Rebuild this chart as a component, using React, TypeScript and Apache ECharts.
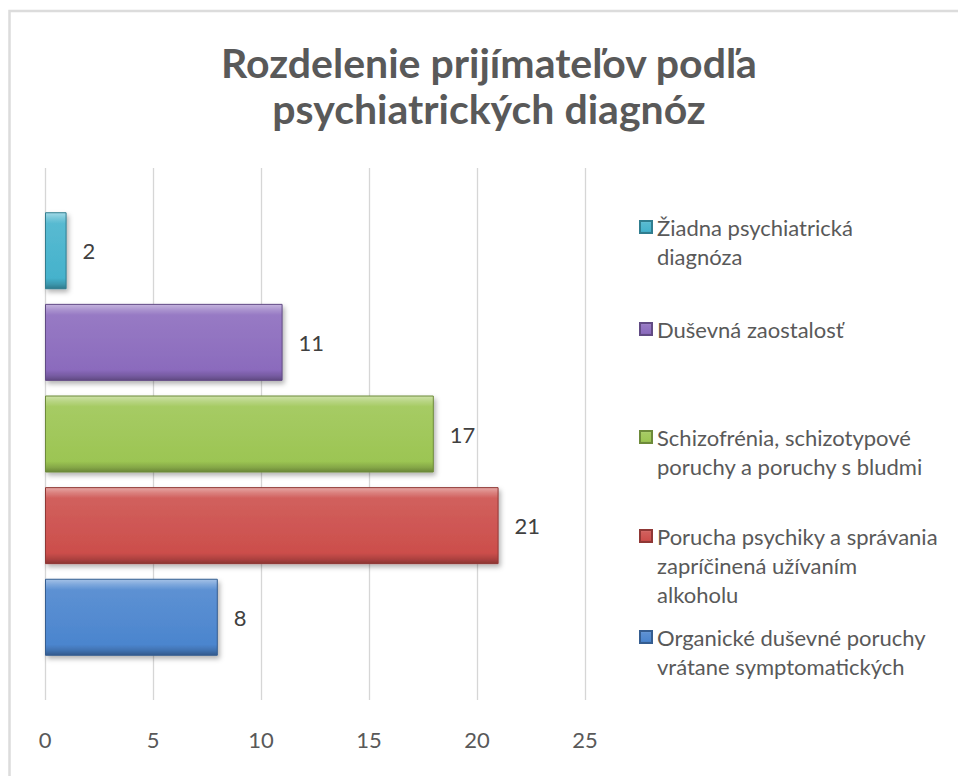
import React, { useEffect, useRef } from "react";
import * as echarts from "echarts";

const titleText = "Rozdelenie prijímateľov podľa\npsychiatrických diagnóz";

const seriesNames = [
  "Žiadna psychiatrická diagnóza",
  "Duševná zaostalosť",
  "Schizofrénia, schizotypové poruchy a poruchy s bludmi",
  "Porucha psychiky a správania zapríčinená užívaním alkoholu",
  "Organické duševné poruchy vrátane symptomatických",
];

const legendLines = [
  ["Žiadna psychiatrická", "diagnóza"],
  ["Duševná zaostalosť"],
  ["Schizofrénia, schizotypové", "poruchy a poruchy s bludmi"],
  ["Porucha psychiky a správania", "zapríčinená užívaním", "alkoholu"],
  ["Organické duševné poruchy", "vrátane symptomatických"],
];

// bar lengths as drawn, and the data labels printed beside them
const barValues = [1, 11, 18, 21, 8];
const labelValues = [2, 11, 17, 21, 8];

const seriesColors = ["#45B2CC", "#8B6BBD", "#9CC553", "#CC4E4B", "#4B85CE"];

const categories = [""];
const xTicks = [0, 5, 10, 15, 20, 25];

const FONT = "Lato, 'Open Sans', sans-serif";

function mix(hex: string, target: number, amt: number) {
  const n = parseInt(hex.slice(1), 16);
  const r = (n >> 16) & 255, g = (n >> 8) & 255, b = n & 255;
  const f = (c: number) => Math.round(c + (target - c) * amt);
  return `rgb(${f(r)},${f(g)},${f(b)})`;
}

function barFill(c: string) {
  return new echarts.graphic.LinearGradient(0, 0, 0, 1, [
    { offset: 0, color: mix(c, 255, 0.5) },
    { offset: 0.07, color: mix(c, 255, 0.28) },
    { offset: 0.14, color: mix(c, 255, 0.1) },
    { offset: 0.86, color: c },
    { offset: 0.94, color: mix(c, 0, 0.15) },
    { offset: 1, color: mix(c, 0, 0.32) },
  ]);
}

export default function App() {
  const ref = useRef<HTMLDivElement>(null);
  useEffect(() => {
    if (!ref.current) return;
    const chart = echarts.init(ref.current, undefined, { renderer: "svg" });
    const L = 29;
    const firstLineCenters = [227, 329, 437, 536, 637];
    const legends = seriesNames.map((name, i) => {
      const n = legendLines[i].length;
      return {
        data: [name],
        orient: "vertical",
        left: 639,
        top: firstLineCenters[i] - ((2 * n - 1) * L) / 2,
        padding: 0,
        icon: "rect",
        itemWidth: 12,
        itemHeight: 12,
        selectedMode: false,
        // leading blank lines keep the first text line level with the icon
        formatter: () => "\n".repeat(n - 1) + legendLines[i].join("\n"),
        textStyle: {
          fontFamily: FONT,
          fontSize: 22,
          color: "#595959",
          lineHeight: L,
        },
      };
    });
    chart.setOption({
      animation: false,
      backgroundColor: "#ffffff",
      title: {
        text: titleText,
        left: 489,
        top: 39,
        padding: 0,
        textAlign: "center",
        textStyle: {
          fontFamily: FONT,
          fontWeight: "bold",
          fontSize: 41,
          lineHeight: 46,
          color: "#595959",
        },
      },
      graphic: [
        {
          type: "rect",
          shape: { x: 9.5, y: 11, width: 1000, height: 1000 },
          style: { fill: "none", stroke: "#dcdcdc", lineWidth: 2.5 },
          silent: true,
          z: -1,
        },
      ],
      legend: legends,
      grid: { left: 45, right: 373, top: 168, bottom: 76, containLabel: false },
      xAxis: {
        type: "value",
        min: xTicks[0],
        max: xTicks[xTicks.length - 1],
        interval: xTicks[1] - xTicks[0],
        axisLine: { show: false },
        axisTick: { show: false },
        splitLine: { show: true, lineStyle: { color: "#d6d6d6", width: 1.3 } },
        axisLabel: {
          fontFamily: FONT,
          fontSize: 22,
          color: "#595959",
          margin: 28,
        },
      },
      yAxis: {
        type: "category",
        data: categories,
        axisLine: { show: false },
        axisTick: { show: false },
        axisLabel: { show: false },
        splitLine: { show: false },
      },
      series: seriesNames.map((name, i) => ({
        name,
        type: "bar",
        data: [barValues[i]],
        barWidth: 77,
        barGap: "19%",
        itemStyle: {
          color: barFill(seriesColors[i]),
          borderColor: mix(seriesColors[i], 0, 0.3),
          borderWidth: 1,
          shadowColor: "rgba(0,0,0,0.3)",
          shadowBlur: 5,
          shadowOffsetX: 2,
          shadowOffsetY: 3,
        },
        label: {
          show: true,
          position: "right",
          distance: 16,
          fontFamily: FONT,
          fontSize: 22,
          color: "#404040",
          formatter: () => String(labelValues[i]),
        },
      })),
    });
    return () => chart.dispose();
  }, []);
  return (
    <div
      ref={ref}
      style={{ position: "fixed", left: 0, top: 0, width: 958, height: 776 }}
    />
  );
}
